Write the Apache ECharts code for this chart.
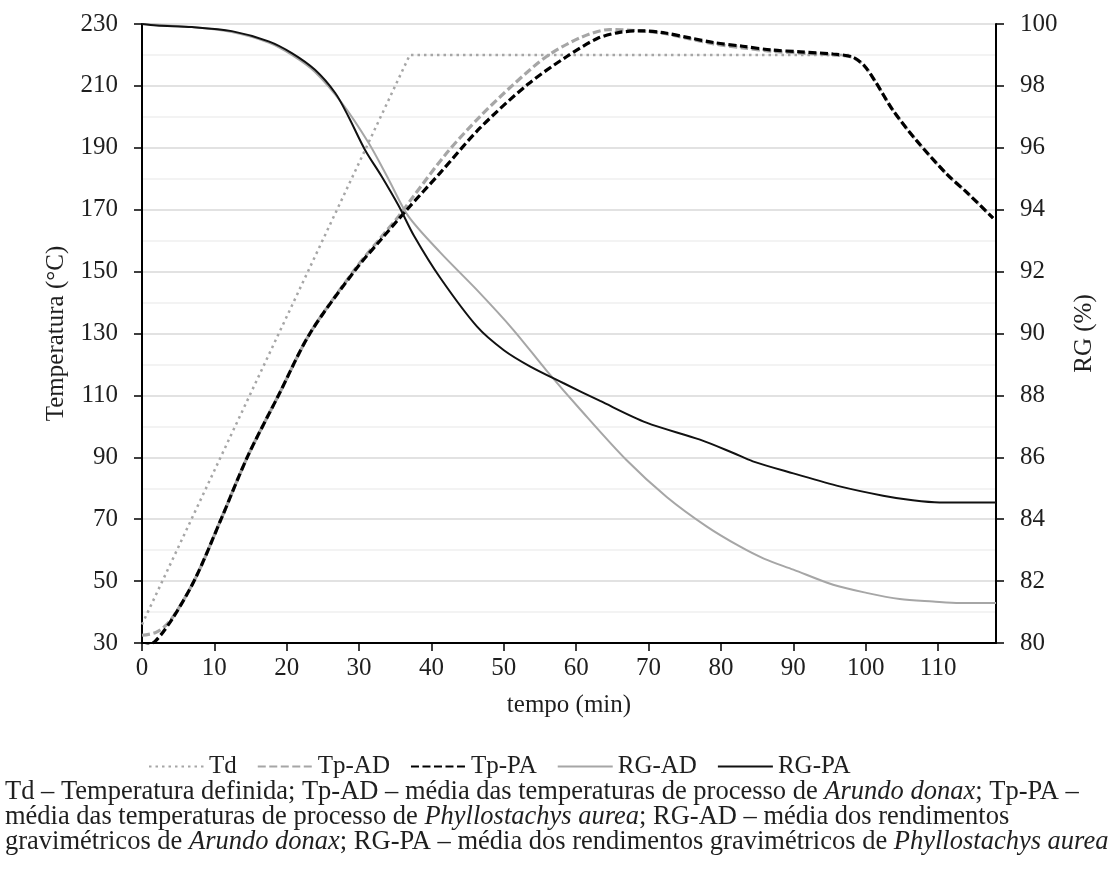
<!DOCTYPE html>
<html>
<head>
<meta charset="utf-8">
<title>Temperatura e rendimento gravimétrico</title>
<script src="https://cdn.jsdelivr.net/npm/echarts@6/dist/echarts.min.js"></script>
<style>
  html, body { margin: 0; padding: 0; background: #fff; }
  #chart { width: 1116px; height: 870px; }
</style>
</head>
<body>
<div id="chart"></div>
<script>
// Set-point temperature (°C) against time (min)
const tdMin = [0, 37, 98];
const tdVal = [36, 220, 220];

// Mean process temperature, Arundo donax (°C)
const tpAdMin = [0, 2, 4, 7.4, 11, 14.6, 18.9, 23.2, 29.5, 33, 35.5, 37.5, 42.1, 46.7, 51.3, 55.9, 60.5, 64.6, 68.8, 72, 75.7, 79, 83, 87, 91, 95.5, 98.2, 99.8, 101.3, 103.8, 107, 111.2, 114, 117.6];
const tpAdVal = [32.5, 33.5, 37.5, 51, 70.4, 90.3, 110.2, 130, 151, 161, 168, 174.3, 188.3, 200.1, 210.4, 219.5, 225.5, 228.2, 227.8, 227, 225.2, 223.6, 222.3, 221.2, 220.6, 220, 219.2, 216.5, 211.5, 202, 192.4, 181.5, 175.5, 167.3];

// Mean process temperature, Phyllostachys aurea (°C)
const tpPaMin = [0, 1.8, 4.4, 7.4, 11, 14.6, 18.9, 23.2, 29.5, 33, 36.6, 41.2, 46.7, 53.3, 58.7, 62.9, 66, 69, 72, 75.7, 79, 83, 87, 91, 95.5, 98.2, 99.8, 101.3, 103.8, 107, 111.2, 114, 117.6];
const tpPaVal = [28.5, 30.5, 38.6, 51, 70.4, 90.3, 110.2, 130, 150.6, 160.3, 170, 181.9, 196.4, 210.5, 219.5, 225.3, 227.3, 227.8, 227.2, 225.5, 224, 222.8, 221.6, 221, 220.3, 219.3, 216.5, 211.5, 202, 192.4, 181.5, 175.5, 167.3];

// Mean gravimetric yield, Arundo donax (%)
const rgAdMin = [0, 6.9, 12.4, 17.5, 20.7, 23.9, 27.6, 31.3, 34.1, 36.8, 41.2, 46.3, 51.3, 55.9, 60.5, 66.9, 72.5, 78, 82.6, 86, 90, 95.5, 100.1, 104.7, 109.3, 113, 118];
const rgAdVal = [100, 99.9, 99.74, 99.4, 99.0, 98.45, 97.45, 96.16, 94.97, 93.79, 92.62, 91.4, 90.12, 88.8, 87.56, 85.92, 84.72, 83.77, 83.12, 82.72, 82.37, 81.88, 81.62, 81.42, 81.34, 81.29, 81.29];

// Mean gravimetric yield, Phyllostachys aurea (%)
const rgPaMin = [0, 2, 6.9, 12.4, 17.5, 20.7, 23.9, 26.7, 28.5, 30.8, 33.1, 35.5, 37.6, 41.2, 46.3, 50, 53.6, 58.2, 63.3, 69.7, 77.1, 81.7, 84.4, 90, 96.4, 102.4, 106.5, 110.2, 118];
const rgPaVal = [100, 99.95, 99.9, 99.77, 99.44, 99.06, 98.52, 97.77, 97.02, 95.94, 95.08, 94.11, 93.15, 91.8, 90.22, 89.46, 88.94, 88.4, 87.82, 87.12, 86.57, 86.14, 85.87, 85.48, 85.06, 84.76, 84.61, 84.54, 84.54];

const seriesNames = ['Td', 'Tp-AD', 'Tp-PA', 'RG-AD', 'RG-PA'];
const xAxisTitle = 'tempo (min)';
const yLeftTitle = 'Temperatura (°C)';
const yRightTitle = 'RG (%)';

const captionLines = [
  'Td – Temperatura definida; Tp-AD – média das temperaturas de processo de {i|Arundo donax}; Tp-PA –',
  'média das temperaturas de processo de {i|Phyllostachys aurea}; RG-AD – média dos rendimentos',
  'gravimétricos de {i|Arundo donax}; RG-PA – média dos rendimentos gravimétricos de {i|Phyllostachys aurea}'
];

const FONT = '"Liberation Serif", "Times New Roman", serif';
const INK = '#1f1f1f';
const GREY = '#a6a6a6';
const CAPTION_SIZE = 26.5;

const pairs = (xs, ys) => xs.map((x, i) => [x, ys[i]]);

const chart = echarts.init(document.getElementById('chart'), null, { renderer: 'canvas' });

chart.setOption({
  animation: false,
  backgroundColor: '#ffffff',
  textStyle: { fontFamily: FONT, color: INK },
  title: {
    text: captionLines.join('\n'),
    left: 5,
    top: 780,
    padding: 0,
    textStyle: {
      fontFamily: FONT,
      fontSize: CAPTION_SIZE,
      fontWeight: 'normal',
      color: INK,
      lineHeight: 25,
      rich: {
        i: { fontFamily: FONT, fontSize: CAPTION_SIZE, fontStyle: 'italic', color: INK, lineHeight: 25 }
      }
    }
  },
  legend: {
    data: seriesNames,
    left: 148,
    top: 754,
    padding: 0,
    itemWidth: 55,
    itemHeight: 14,
    itemGap: 20,
    // line samples only, no marker dot
    itemStyle: { opacity: 0 },
    textStyle: { fontFamily: FONT, fontSize: 25, color: INK }
  },
  grid: { left: 142, right: 120, top: 24, bottom: 227, containLabel: false },
  xAxis: {
    type: 'value',
    min: 0,
    max: 118,
    interval: 10,
    name: xAxisTitle,
    nameLocation: 'middle',
    nameGap: 50,
    nameTextStyle: { fontFamily: FONT, fontSize: 25, color: INK },
    axisLine: { show: true, onZero: false, lineStyle: { color: '#000', width: 2 } },
    axisTick: { show: true, length: 8, lineStyle: { color: '#000', width: 1.5 } },
    axisLabel: { margin: 13, fontFamily: FONT, fontSize: 25, color: INK, showMaxLabel: false },
    splitLine: { show: false }
  },
  yAxis: [
    {
      type: 'value',
      position: 'left',
      min: 30,
      max: 230,
      interval: 20,
      name: yLeftTitle,
      nameLocation: 'middle',
      nameRotate: 90,
      nameGap: 73,
      nameTextStyle: { fontFamily: FONT, fontSize: 25, color: INK },
      axisLine: { show: true, lineStyle: { color: '#000', width: 2 } },
      axisTick: { show: true, length: 8, lineStyle: { color: '#000', width: 1.5 } },
      axisLabel: { margin: 24, fontFamily: FONT, fontSize: 25, color: INK },
      splitLine: { show: true, lineStyle: { color: '#d9d9d9', width: 1.5 } },
      minorTick: { show: false, splitNumber: 2 },
      minorSplitLine: { show: true, lineStyle: { color: '#f0f0f0', width: 1.5 } }
    },
    {
      type: 'value',
      position: 'right',
      min: 80,
      max: 100,
      interval: 2,
      name: yRightTitle,
      nameLocation: 'middle',
      nameRotate: 90,
      nameGap: 76,
      nameTextStyle: { fontFamily: FONT, fontSize: 25, color: INK },
      axisLine: { show: true, lineStyle: { color: '#000', width: 2 } },
      axisTick: { show: true, length: 8, lineStyle: { color: '#000', width: 1.5 } },
      axisLabel: { margin: 24, fontFamily: FONT, fontSize: 25, color: INK },
      splitLine: { show: false }
    }
  ],
  series: [
    {
      name: seriesNames[0],
      type: 'line',
      yAxisIndex: 0,
      data: pairs(tdMin, tdVal),
      symbol: 'none',
      lineStyle: { color: GREY, width: 2.5, type: [2.5, 4] },
      itemStyle: { color: GREY },
      z: 2
    },
    {
      name: seriesNames[1],
      type: 'line',
      yAxisIndex: 0,
      data: pairs(tpAdMin, tpAdVal),
      symbol: 'none',
      smooth: 0.3,
      lineStyle: { color: GREY, width: 3.2, type: [8, 3.5] },
      itemStyle: { color: GREY },
      z: 3
    },
    {
      name: seriesNames[2],
      type: 'line',
      yAxisIndex: 0,
      data: pairs(tpPaMin, tpPaVal),
      symbol: 'none',
      smooth: 0.3,
      lineStyle: { color: '#000', width: 3.2, type: [8, 3.5] },
      itemStyle: { color: '#000' },
      z: 4
    },
    {
      name: seriesNames[3],
      type: 'line',
      yAxisIndex: 1,
      data: pairs(rgAdMin, rgAdVal),
      symbol: 'none',
      smooth: 0.3,
      lineStyle: { color: GREY, width: 2 },
      itemStyle: { color: GREY },
      z: 3
    },
    {
      name: seriesNames[4],
      type: 'line',
      yAxisIndex: 1,
      data: pairs(rgPaMin, rgPaVal),
      symbol: 'none',
      smooth: 0.3,
      lineStyle: { color: '#111', width: 2 },
      itemStyle: { color: '#111' },
      z: 4
    }
  ]
});
</script>
</body>
</html>
